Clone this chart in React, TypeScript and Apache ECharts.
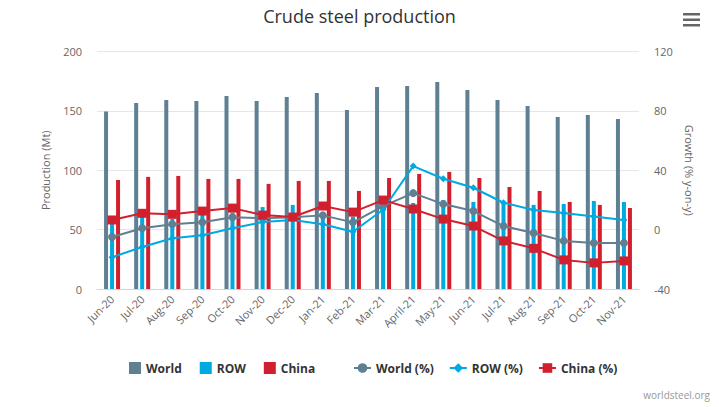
import React, { useEffect, useRef } from "react";
import * as echarts from "echarts";

const categories = ["Jun-20","Jul-20","Aug-20","Sep-20","Oct-20","Nov-20","Dec-20","Jan-21","Feb-21","Mar-21","April-21","May-21","Jun-21","Jul-21","Aug-21","Sep-21","Oct-21","Nov-21"];
const worldProd = [149.5,156.7,159.2,158.4,162.6,158.4,161.7,165,150.8,170.2,171,174.4,167.6,159.2,154.2,144.9,146.6,143.2];
const rowProd = [54.8,61,59,62.3,64.3,69,70.8,64,61,68,72.4,75,73.3,72,70.8,71.6,74.1,73.3];
const chinaProd = [91.8,94.4,95.2,92.7,92.7,88.5,91,91,82.6,93.5,96.9,98.6,93.5,85.9,82.6,73.3,70.8,68.2];
const worldPct = [-5,0.9,3.6,4.9,8.3,7.6,8.3,9.6,4.9,15.8,24.6,17.2,12.5,2.4,-2.3,-7.6,-9,-9];
const rowPct = [-18.6,-11.7,-5.8,-3.8,0.9,5.1,6.5,3.6,-1.4,13.4,42.8,34.3,28.2,18.1,13.2,11.2,8.9,6.5];
const chinaPct = [6.5,11,10.3,12.5,14.5,9.8,8.5,15.9,11.8,19.9,13.9,7.1,2.4,-7.6,-12.6,-20.4,-22.4,-21.1];
const leftTicks = { min: 0, max: 200, interval: 50 };
const rightTicks = { min: -40, max: 120, interval: 40 };

const C_WORLD = "#5f7f92";
const C_ROW = "#00a9e0";
const C_CHINA = "#d21f2d";
const FONT = "'Open Sans', 'DejaVu Sans', sans-serif";

export default function App() {
  const ref = useRef<HTMLDivElement>(null);
  useEffect(() => {
    const chart = echarts.init(ref.current!, null, { renderer: "svg" });
    const barCommon = { type: "bar", barWidth: 4, barGap: "50%", yAxisIndex: 0 };
    const lineCommon = { type: "line", yAxisIndex: 1, lineStyle: { width: 2 }, z: 5 };
    const legendText = { fontSize: 12, fontWeight: "bold", color: "#333", fontFamily: FONT };
    chart.setOption({
      animation: false,
      textStyle: { fontFamily: FONT },
      title: {
        text: "Crude steel production",
        left: "center",
        top: 2,
        textStyle: { fontSize: 18, fontWeight: "normal", color: "#333", fontFamily: FONT },
      },
      graphic: [
        { type: "rect", shape: { x: 683, y: 13, width: 17, height: 2.5 }, style: { fill: "#666" } },
        { type: "rect", shape: { x: 683, y: 18.5, width: 17, height: 2.5 }, style: { fill: "#666" } },
        { type: "rect", shape: { x: 683, y: 24, width: 17, height: 2.5 }, style: { fill: "#666" } },
        { type: "text", right: 9, top: 390, style: { text: "worldsteel.org", fontSize: 10, fill: "#999", fontFamily: FONT } },
      ],
      legend: [
        {
          data: ["World", "ROW", "China"],
          left: 124,
          top: 357,
          icon: "rect",
          itemWidth: 12,
          itemHeight: 12,
          itemGap: 18,
          textStyle: legendText,
        },
        {
          data: ["World (%)", "ROW (%)", "China (%)"],
          left: 348,
          top: 357,
          itemWidth: 17,
          itemHeight: 12,
          itemGap: 15,
          textStyle: legendText,
        },
      ],
      grid: { left: 97, right: 80, top: 51.5, bottom: 118 },
      xAxis: {
        type: "category",
        data: categories,
        axisLine: { lineStyle: { color: "#ccd6eb" } },
        axisTick: { length: 10, lineStyle: { color: "#ccd6eb" } },
        axisLabel: { rotate: 45, fontSize: 11, color: "#666", margin: 8, interval: 0 },
      },
      yAxis: [
        {
          type: "value",
          ...leftTicks,
          name: "Production (Mt)",
          nameLocation: "middle",
          nameGap: 46,
          nameTextStyle: { fontSize: 11, color: "#666" },
          axisLine: { show: false },
          axisTick: { show: false },
          axisLabel: { fontSize: 11, color: "#666", margin: 15 },
          splitLine: { lineStyle: { color: "#e6e6e6" } },
        },
        {
          type: "value",
          ...rightTicks,
          name: "Growth (% y-on-y)",
          nameLocation: "middle",
          nameGap: 45,
          nameRotate: -90,
          nameTextStyle: { fontSize: 11, color: "#666" },
          axisLine: { show: false },
          axisTick: { show: false },
          axisLabel: { fontSize: 11, color: "#666", margin: 15 },
          splitLine: { show: false },
        },
      ],
      series: [
        { ...barCommon, name: "World", data: worldProd, itemStyle: { color: C_WORLD } },
        { ...barCommon, name: "ROW", data: rowProd, itemStyle: { color: C_ROW } },
        { ...barCommon, name: "China", data: chinaProd, itemStyle: { color: C_CHINA } },
        { ...lineCommon, name: "World (%)", data: worldPct, symbol: "circle", symbolSize: 8, itemStyle: { color: C_WORLD }, lineStyle: { width: 2, color: C_WORLD } },
        { ...lineCommon, name: "ROW (%)", data: rowPct, symbol: "diamond", symbolSize: 7, itemStyle: { color: C_ROW }, lineStyle: { width: 2, color: C_ROW } },
        { ...lineCommon, name: "China (%)", data: chinaPct, symbol: "rect", symbolSize: 9, itemStyle: { color: C_CHINA }, lineStyle: { width: 2, color: C_CHINA } },
      ],
    });
    return () => chart.dispose();
  }, []);
  return <div ref={ref} style={{ width: 719, height: 407, position: "absolute", left: 0, top: 0 }} />;
}
